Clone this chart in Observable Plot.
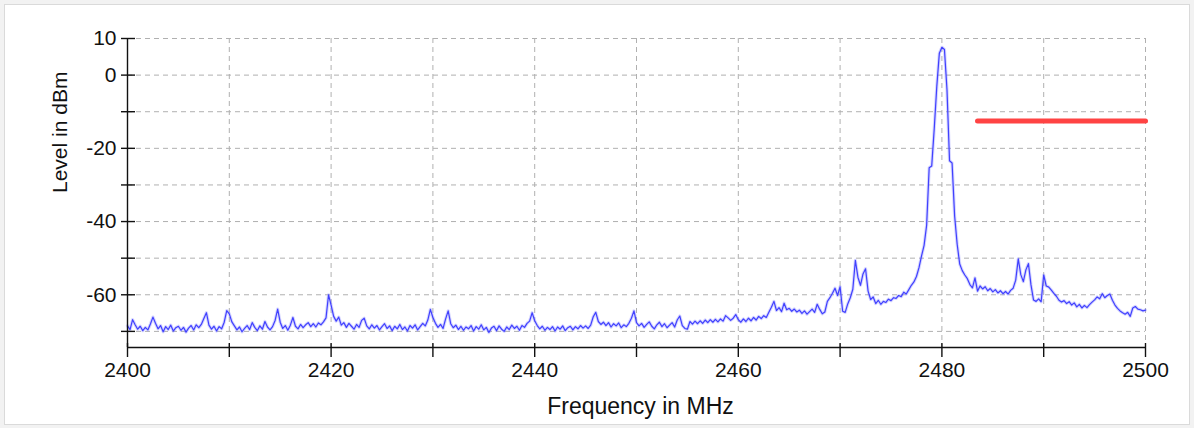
<!DOCTYPE html>
<html>
<head>
<meta charset="utf-8">
<script src="https://cdn.jsdelivr.net/npm/d3@7"></script>
<script src="https://cdn.jsdelivr.net/npm/@observablehq/plot@0.6"></script>
<style>
  html, body { margin: 0; padding: 0; background: #f2f2f2; }
  #wrap { position: relative; width: 1194px; height: 428px; overflow: hidden; }
  #frame { position: absolute; left: 4px; top: 4px; width: 1184px; height: 419px; background: #fff; border: 1px solid #dadada; }
  #chart { position: absolute; left: 0; top: 0; }
</style>
</head>
<body>
<div id="wrap"><div id="frame"></div><div id="chart"></div></div>
<script>
// Spectrum samples: start frequency, step (MHz) and level readings (dBm)
const freqStart = 2400;
const freqStep = 0.25;
const levels = [
  -68.5,-69.5,-66.8,-68.2,-69.4,-68.6,-69.8,-68.9,-69.6,-68.0,-66.1,-67.8,-69.3,-68.4,-70.1,-68.7,-69.5,-68.3,-69.9,-69.0,
  -68.6,-69.7,-68.9,-70.2,-69.1,-68.4,-69.6,-68.2,-69.0,-68.1,-66.5,-64.9,-68.3,-69.4,-68.6,-69.9,-68.7,-69.3,-67.5,-64.3,
  -65.2,-67.4,-68.5,-69.6,-68.8,-70.1,-69.2,-68.4,-69.5,-67.6,-68.9,-69.8,-68.5,-69.4,-67.3,-68.8,-69.6,-68.7,-67.0,-63.9,
  -67.5,-69.2,-68.4,-69.7,-68.3,-66.2,-68.6,-69.3,-68.1,-69.0,-68.2,-67.6,-68.7,-67.9,-68.8,-67.7,-68.2,-67.4,-66.3,-60.0,
  -62.8,-65.9,-67.2,-66.1,-68.3,-67.6,-68.9,-67.8,-68.6,-69.4,-68.1,-68.9,-67.0,-66.4,-68.5,-69.3,-68.2,-69.1,-68.4,-69.6,
  -68.7,-67.9,-69.2,-68.5,-69.8,-68.6,-69.3,-68.1,-69.5,-68.8,-69.9,-68.4,-69.1,-68.2,-69.6,-68.7,-67.8,-68.5,-66.9,-64.0,
  -66.2,-67.8,-68.9,-68.1,-69.2,-66.6,-64.4,-67.9,-69.0,-68.3,-69.5,-68.6,-69.7,-68.8,-69.3,-68.4,-69.9,-68.7,-69.4,-68.2,
  -69.6,-68.9,-70.3,-69.1,-68.6,-69.8,-68.5,-69.4,-70.0,-68.8,-69.5,-68.3,-69.2,-68.6,-69.7,-68.4,-68.9,-67.8,-67.2,-64.9,
  -67.1,-68.4,-69.3,-68.6,-69.7,-68.9,-69.5,-68.7,-69.9,-68.8,-69.4,-68.5,-69.8,-69.0,-68.6,-69.6,-68.7,-69.3,-68.4,-69.1,
  -68.5,-69.2,-68.3,-66.0,-64.8,-67.3,-68.1,-67.5,-68.4,-67.6,-68.8,-67.9,-68.5,-67.7,-69.0,-68.2,-68.7,-67.8,-66.4,-64.4,
  -67.6,-68.5,-67.8,-68.9,-68.1,-67.4,-68.6,-69.3,-68.2,-67.5,-68.7,-67.9,-69.0,-68.3,-67.6,-68.8,-66.9,-65.8,-68.4,-69.2,
  -69.4,-67.3,-68.0,-67.2,-67.9,-67.1,-67.8,-66.9,-67.6,-66.8,-67.5,-66.7,-67.4,-66.6,-67.2,-65.7,-66.3,-67.0,-66.4,-65.4,
  -66.8,-67.5,-66.6,-67.3,-66.4,-67.1,-66.2,-66.9,-65.9,-66.5,-65.7,-66.2,-64.8,-63.4,-61.8,-64.3,-63.5,-64.6,-62.3,-64.1,
  -63.7,-64.5,-63.9,-64.7,-64.2,-65.1,-64.4,-65.3,-64.6,-63.9,-64.8,-62.6,-64.0,-65.2,-64.7,-61.8,-60.8,-59.6,-58.2,-60.2,
  -57.8,-64.5,-64.8,-62.5,-60.8,-58.5,-50.6,-55.2,-57.4,-54.3,-52.9,-59.0,-61.3,-60.6,-62.4,-61.5,-62.6,-61.8,-62.1,-61.2,
  -61.6,-60.8,-61.0,-60.2,-60.5,-59.3,-59.8,-58.6,-57.4,-56.5,-55.0,-52.6,-49.4,-46.5,-41.0,-25.3,-24.8,-14.5,-3.0,6.0,
  7.6,7.0,-4.0,-23.4,-24.0,-38.5,-46.2,-51.6,-53.4,-54.6,-55.6,-57.2,-58.1,-55.4,-59.0,-57.6,-58.4,-57.8,-58.9,-58.3,
  -59.2,-58.6,-59.5,-58.9,-59.7,-59.1,-59.8,-58.8,-58.2,-56.0,-50.2,-54.5,-56.4,-53.2,-51.5,-57.3,-61.4,-61.8,-61.1,-61.9,
  -54.6,-57.6,-57.9,-58.7,-59.6,-60.4,-61.5,-62.0,-61.6,-62.4,-61.9,-62.8,-62.2,-63.3,-62.6,-63.6,-62.9,-63.5,-62.7,-62.0,
  -61.4,-60.6,-61.1,-59.7,-60.8,-60.2,-59.8,-61.5,-62.8,-63.7,-64.4,-64.9,-65.3,-64.8,-65.9,-63.6,-63.2,-63.9,-64.1,-64.4,
  -64.2
];
// Limit line (red)
const limitFreq = [2483.5, 2500];
const limitLevel = [-12.5, -12.5];
// Axes
const xDomain = [2400, 2500];
const yDomain = [-74.4, 10];
const xTicks = [2400, 2410, 2420, 2430, 2440, 2450, 2460, 2470, 2480, 2490, 2500];
const xTickLabels = [2400, 2420, 2440, 2460, 2480, 2500];
const yTicks = [10, 0, -10, -20, -30, -40, -50, -60, -70];
const yTickLabels = [10, 0, -20, -40, -60];
const xLabel = "Frequency in MHz";
const yLabel = "Level in dBm";

const spectrum = levels.map((v, i) => ({f: freqStart + i * freqStep, v}));
const limit = limitFreq.map((f, i) => ({f, v: limitLevel[i]}));

const font = "'Liberation Sans', Arial, sans-serif";
const chart = Plot.plot({
  width: 1194,
  height: 428,
  marginLeft: 127,
  marginRight: 49,
  marginTop: 38,
  marginBottom: 81,
  style: {background: "transparent", fontFamily: font, fontSize: "21px", color: "#111"},
  x: {domain: xDomain},
  y: {domain: yDomain},
  marks: [
    Plot.gridX(xTicks, {stroke: "#b0b0b0", strokeOpacity: 1, strokeDasharray: "5,4"}),
    Plot.gridY(yTicks, {stroke: "#b0b0b0", strokeOpacity: 1, strokeDasharray: "5,4"}),
    Plot.line(spectrum, {x: "f", y: "v", stroke: "#8a8aff", strokeWidth: 3.2, strokeOpacity: 0.35}),
    Plot.line(spectrum, {x: "f", y: "v", stroke: "#4040ff", strokeWidth: 1.2}),
    Plot.line(limit, {x: "f", y: "v", stroke: "#ff4343", strokeWidth: 5}),
    Plot.ruleX([xDomain[0]], {stroke: "#111", strokeWidth: 1.4}),
    Plot.ruleY([yDomain[0]], {stroke: "#111", strokeWidth: 1.4}),
    Plot.axisX(xTicks, {tickSize: 14, dy: -4, tickPadding: 5, stroke: "#111", strokeWidth: 1.4,
      tickFormat: d => xTickLabels.includes(d) ? String(d) : "", fontSize: 21, fill: "#111", label: null}),
    Plot.axisY(yTicks, {tickSize: 14, dx: 8, tickPadding: 5, stroke: "#111", strokeWidth: 1.4,
      tickFormat: d => yTickLabels.includes(d) ? String(d) : "", fontSize: 21, fill: "#111", label: null}),
    Plot.text([yLabel], {frameAnchor: "left", rotate: -90, dx: -67, fontSize: 21, fill: "#111"}),
    Plot.text([xLabel], {frameAnchor: "bottom", dy: 66, dx: 4, fontSize: 23, fill: "#111"})
  ]
});
document.getElementById("chart").appendChild(chart);
</script>
</body>
</html>
